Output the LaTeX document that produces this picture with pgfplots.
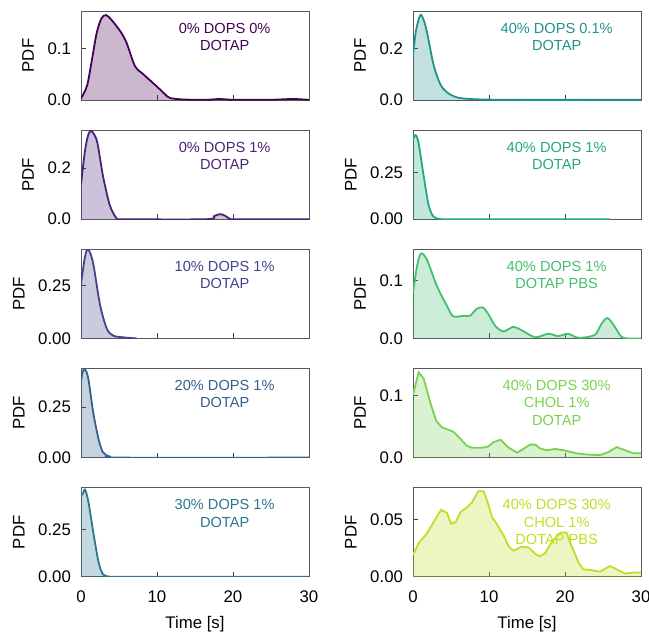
\documentclass[border=0pt]{standalone}
\usepackage{fontspec}
\setmainfont{Liberation Sans}
\usepackage{pgfplots}
\usepackage{pgfplotstable}
\pgfplotsset{compat=1.18}
\usepgfplotslibrary{groupplots}

\definecolor{vA}{HTML}{440154}
\definecolor{vB}{HTML}{482475}
\definecolor{vC}{HTML}{414487}
\definecolor{vD}{HTML}{355F8D}
\definecolor{vE}{HTML}{2A788E}
\definecolor{vF}{HTML}{21918C}
\definecolor{vG}{HTML}{22A884}
\definecolor{vH}{HTML}{44BF70}
\definecolor{vI}{HTML}{7AD151}
\definecolor{vJ}{HTML}{BDDF26}

\pgfplotstableread{
t y
0 0.003
0.8 0.028
1.4 0.075
2.06 0.130
2.7 0.159
3.3 0.165
4.0 0.156
5.2 0.133
6.0 0.111
7.1 0.066
8.2 0.050
10.0 0.026
11.0 0.012
11.7 0.004
13.5 0.001
16.5 0.0005
18.3 0.002
20 0.0005
25 0.0005
27.9 0.002
30 0.0003
}\tabA

\pgfplotstableread{
t y
0 0.135
0.53 0.270
1.0 0.335
1.4 0.345
2.06 0.311
2.5 0.24
2.94 0.162
3.8 0.054
4.7 0.003
5.5 0
16.5 0
17.5 0.012
18.3 0.020
19.0 0.013
19.6 0.001
20.5 0
30 0
}\tabB

\pgfplotstableread{
t y
0 0.258
0.53 0.389
0.96 0.422
1.6 0.356
2.5 0.160
3.4 0.046
4.25 0.013
5.6 0.005
7.3 0.0
}\tabC

\pgfplotstableread{
t y
0 0.374
0.22 0.424
0.53 0.437
0.96 0.391
1.6 0.225
2.3 0.093
2.9 0.026
3.8 0.005
5.1 0
30 0
}\tabD

\pgfplotstableread{
t y
0 0.429
0.3 0.446
0.53 0.464
0.96 0.402
1.6 0.241
2.3 0.080
2.9 0.013
3.8 0.001
5 0
30 0
}\tabE

\pgfplotstableread{
t y
0 0.175
0.4 0.27
0.96 0.329
1.4 0.31
1.84 0.263
2.7 0.137
3.6 0.061
4.5 0.029
5.8 0.010
7.5 0.004
11 0.001
20 0.0005
28 0.001
30 0.0005
}\tabF

\pgfplotstableread{
t y
0 0.425
0.35 0.451
0.74 0.407
1.4 0.233
2.06 0.075
2.7 0.014
3.6 0.001
5 0
25.9 0
}\tabG

\pgfplotstableread{
t y
0 0.079
0.53 0.124
1.05 0.146
1.84 0.135
3.15 0.090
4.47 0.056
5.3 0.038
6.7 0.039
7.5 0.039
8.4 0.051
9.2 0.053
9.9 0.042
10.8 0.022
11.9 0.012
13.2 0.020
14.3 0.014
16.1 0.002
17.8 0.008
19.1 0.004
20.4 0.008
21.8 0.001
23.9 0.006
24.8 0.025
25.6 0.035
26.5 0.021
27.4 0.003
28.3 0
30 0
}\tabH

\pgfplotstableread{
t y
0 0.102
0.74 0.138
1.4 0.128
2.3 0.088
3.07 0.059
3.8 0.049
5.3 0.042
6.2 0.031
7.1 0.019
7.75 0.016
9.07 0.016
9.9 0.018
10.6 0.025
11.5 0.029
12.6 0.016
13.7 0.008
14.5 0.014
15.4 0.021
16.1 0.021
16.7 0.015
17.6 0.012
18.7 0.014
19.8 0.012
21.5 0.007
22.9 0.005
24.6 0.004
25.7 0.009
26.8 0.017
27.9 0.012
29.0 0.007
30 0.007
}\tabI

\pgfplotstableread{
t y
0 0.0193
0.74 0.0293
1.84 0.0378
2.7 0.0477
3.7 0.0585
4.47 0.0557
5.0 0.0463
5.6 0.0477
6.3 0.0568
7.1 0.0605
7.75 0.0648
8.6 0.0747
9.3 0.0747
9.9 0.0634
10.4 0.052
11.0 0.0463
11.9 0.0364
12.6 0.0264
13.2 0.0227
14.3 0.0264
15.2 0.0256
16.1 0.0199
16.7 0.0179
17.4 0.0207
18.3 0.0307
19.4 0.0386
20.2 0.0386
20.8 0.0278
21.8 0.0122
22.4 0.0065
23.3 0.0060
24.6 0.0045
25.9 0.0094
26.8 0.0065
27.9 0.0028
29.0 0.0037
30 0.0037
}\tabJ

% fill + line for one panel
\newcommand{\kde}[3]{%
  \addplot[draw=none, fill=#2, fill opacity=0.28, #3] table[x=t,y=y] {#1} \closedcycle;
  \addplot[#2, line width=0.9pt, #3] table[x=t,y=y] {#1};
}
\newcommand{\lab}[2]{%
  \node[anchor=north, align=center, inner sep=0pt, text=#1,
        font=\fontsize{7.3}{8.6}\selectfont] at (rel axis cs:0.63,0.87) {#2};
}

\begin{document}
\begin{tikzpicture}
\begin{groupplot}[
  group style={group size=2 by 5, horizontal sep=52pt, vertical sep=15.1pt,
               xticklabels at=edge bottom, xlabels at=edge bottom},
  scale only axis, width=114pt, height=44.5pt,
  xmin=0, xmax=30, ymin=0,
  xtick={0,10,20,30},
  xtick pos=bottom, ytick pos=left,
  tick align=inside, major tick length=2.5pt,
  axis line style={draw=black!65, line width=0.5pt},
  every tick/.style={black!75, line width=0.5pt},
  tick label style={font=\fontsize{8.4}{10}\selectfont},
  xticklabel style={yshift=-3.5pt},
  yticklabel style={xshift=-1.5pt},
  label style={font=\fontsize{8.4}{10}\selectfont},
  /pgf/number format/assume math mode=true,
  scaled y ticks=false,
  ylabel={PDF}, xlabel={Time [s]},
  yticklabel style={/pgf/number format/fixed, /pgf/number format/fixed zerofill},
]
% row 1
\nextgroupplot[ymax=0.173, ytick={0,0.1}, yticklabel style={/pgf/number format/precision=1}]
\kde{\tabA}{vA}{smooth}
\lab{vA}{0\% DOPS 0\%\\DOTAP}
\nextgroupplot[ymax=0.345, ytick={0,0.2}, yticklabel style={/pgf/number format/precision=1}]
\kde{\tabF}{vF}{smooth}
\lab{vF}{40\% DOPS 0.1\%\\DOTAP}
% row 2
\nextgroupplot[ymax=0.349, ytick={0,0.2}, yticklabel style={/pgf/number format/precision=1}]
\kde{\tabB}{vB}{smooth}
\lab{vB}{0\% DOPS 1\%\\DOTAP}
\nextgroupplot[ymax=0.477, ytick={0,0.25}, yticklabel style={/pgf/number format/precision=2}]
\kde{\tabG}{vG}{smooth}
\lab{vG}{40\% DOPS 1\%\\DOTAP}
% row 3
\nextgroupplot[ymax=0.422, ytick={0,0.25}, yticklabel style={/pgf/number format/precision=2}]
\kde{\tabC}{vC}{smooth}
\lab{vC}{10\% DOPS 1\%\\DOTAP}
\nextgroupplot[ymax=0.153, ytick={0,0.1}, yticklabel style={/pgf/number format/precision=1}]
\kde{\tabH}{vH}{smooth}
\lab{vH}{40\% DOPS 1\%\\DOTAP PBS}
% row 4
\nextgroupplot[ymax=0.440, ytick={0,0.25}, yticklabel style={/pgf/number format/precision=2}]
\kde{\tabD}{vD}{smooth}
\lab{vD}{20\% DOPS 1\%\\DOTAP}
\nextgroupplot[ymax=0.144, ytick={0,0.1}, yticklabel style={/pgf/number format/precision=1}]
\kde{\tabI}{vI}{}
\lab{vI}{40\% DOPS 30\%\\CHOL 1\%\\DOTAP}
% row 5
\nextgroupplot[ymax=0.473, ytick={0,0.25}, yticklabel style={/pgf/number format/precision=2}]
\kde{\tabE}{vE}{smooth}
\lab{vE}{30\% DOPS 1\%\\DOTAP}
\nextgroupplot[ymax=0.0776, ytick={0,0.05}, yticklabel style={/pgf/number format/precision=2}]
\kde{\tabJ}{vJ}{}
\lab{vJ}{40\% DOPS 30\%\\CHOL 1\%\\DOTAP PBS}
\end{groupplot}
\pgfresetboundingbox
\path ([xshift=-40.5pt,yshift=5.5pt]group c1r1.north west)
  rectangle ([xshift=4pt,yshift=-28pt]group c2r5.south east);
\end{tikzpicture}
\end{document}
